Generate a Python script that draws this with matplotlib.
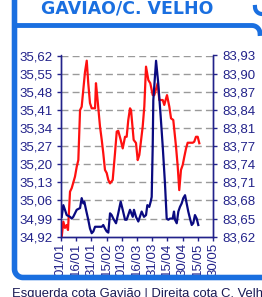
import numpy as np
import matplotlib
matplotlib.use("Agg")
import matplotlib.pyplot as plt
from matplotlib.lines import Line2D

plt.rcParams['font.family'] = ['Liberation Sans', 'DejaVu Sans']

# Gaviao (left axis), red line: day since 01/01, level
gaviao_day = [0.7, 2.3, 3.9, 5.6, 6.9, 8.9, 10.6, 13.8, 15.5, 17.1, 18.8, 20.4, 23.7, 25.4,
              26.9, 28.6, 30.3, 33.6, 34.5, 35.8, 38.5, 40.2, 41.7, 43.4, 45.1, 46.7, 48.4,
              51.0, 53.3, 55.0, 56.5, 58.9, 60.9, 63.2, 64.8, 66.4, 68.1, 69.1, 71.7, 74.0,
              75.7, 77.3, 80.6, 82.2, 83.9, 86.2, 88.1, 89.5, 90.5, 92.1, 95.4, 97.0, 100.4,
              101.9, 104.6, 106.9, 108.6, 110.8, 113.5, 115.2, 116.7, 118.4, 120.1, 121.7,
              123.4, 125.0, 130.0, 131.5, 133.2, 134.9, 136.5]
gaviao_val = [34.920, 34.978, 34.954, 34.965, 34.946, 35.094, 35.108, 35.152, 35.190, 35.216,
              35.409, 35.422, 35.557, 35.600, 35.513, 35.436, 35.416, 35.416, 35.513, 35.461,
              35.345, 35.294, 35.243, 35.178, 35.166, 35.139, 35.126, 35.139, 35.243, 35.326,
              35.329, 35.294, 35.261, 35.306, 35.306, 35.371, 35.416, 35.409, 35.294, 35.282,
              35.216, 35.236, 35.345, 35.422, 35.577, 35.525, 35.513, 35.487, 35.467, 35.467,
              35.513, 35.448, 35.448, 35.429, 35.467, 35.422, 35.377, 35.371, 35.268, 35.190,
              35.100, 35.178, 35.197, 35.229, 35.261, 35.283, 35.283, 35.287, 35.306, 35.306,
              35.281]

# C. Velho (right axis), blue line
velho_day = [0.7, 2.3, 3.9, 5.6, 8.9, 10.6, 12.1, 15.5, 18.8, 20.4, 22.0, 23.0, 24.7, 26.9,
             28.6, 30.3, 31.9, 33.6, 36.8, 40.2, 41.7, 43.4, 45.1, 46.7, 48.4, 50.0, 51.6,
             54.3, 56.5, 58.9, 60.9, 63.2, 64.8, 68.1, 70.8, 72.0, 74.0, 76.3, 79.6, 81.9,
             83.9, 85.2, 87.1, 88.5, 89.5, 90.5, 91.1, 93.8, 96.0, 98.4, 100.4, 102.6, 104.3,
             105.9, 107.6, 110.2, 111.5, 112.5, 114.2, 115.8, 117.4, 119.1, 120.7, 122.4,
             124.0, 125.6, 127.3, 129.0, 130.5, 132.2, 133.9, 135.5]
velho_val = [83.654, 83.674, 83.666, 83.657, 83.654, 83.651, 83.654, 83.666, 83.669, 83.686,
             83.677, 83.680, 83.666, 83.649, 83.634, 83.626, 83.629, 83.637, 83.637, 83.637,
             83.640, 83.634, 83.629, 83.627, 83.660, 83.657, 83.651, 83.643, 83.660, 83.680,
             83.666, 83.649, 83.649, 83.666, 83.654, 83.666, 83.654, 83.646, 83.663, 83.654,
             83.657, 83.674, 83.671, 83.680, 83.688, 83.774, 83.854, 83.921, 83.882, 83.825,
             83.774, 83.711, 83.651, 83.649, 83.651, 83.651, 83.663, 83.649, 83.643, 83.663,
             83.671, 83.677, 83.686, 83.691, 83.677, 83.663, 83.651, 83.640, 83.643, 83.657,
             83.651, 83.640]

left_ticks = [34.92, 34.99, 35.06, 35.13, 35.20, 35.27, 35.34, 35.41, 35.48, 35.55, 35.62]
right_labels = ['83,62', '83,65', '83,68', '83,71', '83,74', '83,77', '83,81', '83,84',
                '83,87', '83,90', '83,93']
date_labels = ['01/01', '16/01', '31/01', '15/02', '01/03', '16/03', '31/03', '15/04',
               '30/04', '15/05', '30/05']

W, H = 262, 297
navy = '#22228a'
frame_blue = '#1a6fe0'

fig = plt.figure(figsize=(W / 100, H / 100), dpi=100)
fig.patch.set_facecolor('white')


def px(x, y):
    return x / W, 1 - y / H


ax = fig.add_axes([61 / W, 1 - 236.7 / H, 152 / W, 181.2 / H])
ax2 = ax.twinx()

ax.plot(gaviao_day, gaviao_val, color='#ff1010', lw=1.6, zorder=3)
ax2.plot(velho_day, velho_val, color='#0a0a80', lw=1.6, zorder=3)

ax.set_xlim(0, 150)
ax.set_ylim(34.92, 35.62)
ax2.set_ylim(83.62, 83.93)

ax.set_yticks(left_ticks)
ax.set_yticklabels([('%.2f' % v).replace('.', ',') for v in left_ticks])
ax2.set_yticks(np.linspace(83.62, 83.93, len(right_labels)))
ax2.set_yticklabels(right_labels)
ax.set_xticks(np.arange(0, 151, 15))
ax.set_xticklabels(date_labels, rotation=90)

for t in left_ticks[1:]:
    ax.axhline(t, color='#9a9a9a', lw=1.0, dashes=(5, 3), zorder=1)

for a in (ax, ax2):
    for s in a.spines.values():
        s.set_color(navy)
        s.set_linewidth(1.0)
    a.spines['top'].set_visible(False)
    a.tick_params(colors=navy, labelsize=9.5, length=3, width=1, direction='out')
ax.tick_params(axis='y', pad=3)
ax.tick_params(axis='x', pad=1.5)
ax2.tick_params(axis='y', pad=4)

# frame around the chart
r = 8.5
th = np.linspace(np.pi, np.pi / 2, 20)
xs = [14.5, 14.5] + list(14.5 + r + r * np.cos(th)) + [262]
ys = [0, 277.5 - r] + list(277.5 - r + r * np.sin(th)) + [277.5]
fx, fy = zip(*[px(x, y) for x, y in zip(xs, ys)])
fig.add_artist(Line2D(fx, fy, color=frame_blue, lw=4, transform=fig.transFigure,
                      solid_capstyle='butt'))

th2 = np.linspace(-np.pi / 2, 0, 12)
xs = [14.5, 252] + list(252 + 8 * np.cos(th2))
ys = [25.5, 25.5] + list(33.5 + 8 * np.sin(th2))
fx, fy = zip(*[px(x, y) for x, y in zip(xs, ys)])
fig.add_artist(Line2D(fx, fy, color=frame_blue, lw=3.5, transform=fig.transFigure))
th3 = np.linspace(np.pi, np.pi / 2, 12)
xs = list(262 + 7 * np.cos(th3))
ys = list(7 + 7 * np.sin(-th3 + np.pi))
fx, fy = zip(*[px(x, y) for x, y in zip(xs, ys)])
fig.add_artist(Line2D(fx, fy, color=frame_blue, lw=3, transform=fig.transFigure))

fig.text(*px(127, 9.5), 'GAVIÃO/C. VELHO', color=frame_blue, fontsize=12.5,
         fontweight='bold', family=['DejaVu Sans'], ha='center', va='center')
fig.text(*px(12, 288.5), 'Esquerda cota Gavião | Direita cota C. Velho', color='#1a1a55',
         fontsize=9.4, ha='left', va='top')

fig.savefig('out.png', dpi=100)
